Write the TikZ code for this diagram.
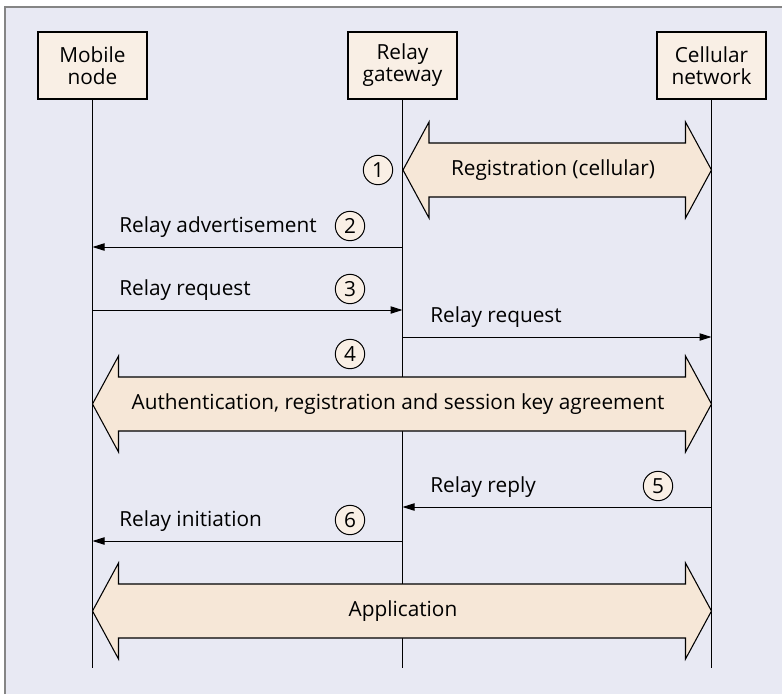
\documentclass[tikz,border=0pt]{standalone}
\usepackage{fontspec}
\setmainfont{Open Sans}
\usetikzlibrary{arrows.meta}
\definecolor{bgc}{HTML}{E8E9F3}
\definecolor{boxc}{HTML}{F9EFE5}
\definecolor{arrc}{HTML}{F6E7D7}
\definecolor{framec}{HTML}{858585}
\tikzset{
  every node/.style={font=\fontsize{15.6pt}{16.5pt}\selectfont},
  actor/.style={draw=black, line width=0.8pt, fill=boxc, minimum width=81.75pt, minimum height=50.25pt, align=center, inner sep=0pt},
  lifeline/.style={line width=0.75pt, black},
  msg/.style={line width=0.75pt, -{Triangle[length=9pt,width=5.5pt]}},
  stepnum/.style={circle, draw=black, line width=0.75pt, fill=boxc, minimum size=22pt, inner sep=0pt},
  bigarrow/.style={draw=black, line width=0.8pt, fill=arrc, line join=miter},
  lbl/.style={anchor=base west, inner sep=0pt}
}
\begin{document}
\begin{tikzpicture}[x=0.75pt, y=-0.75pt]
\useasboundingbox (0,0) rectangle (782,694);
% frame
\fill[bgc] (5,7) rectangle (782,694);
\draw[framec, line width=1.6pt] (5,694) -- (5,7) -- (782,7);
% actors
\node[actor] (mn) at (92.5,65.5) {Mobile\\node};
\node[actor] (rg) at (402.5,65.5) {Relay\\gateway};
\node[actor] (cn) at (711.5,65.5) {Cellular\\network};
% lifeline ends
\coordinate (mnE) at (92.5,668);
\coordinate (rgE) at (402.5,668);
\coordinate (cnE) at (711.5,668);
\draw[lifeline] (mn.south) -- (mnE);
\draw[lifeline] (rg.south) -- (rgE);
\draw[lifeline] (cn.south) -- (cnE);
% big arrow 1: registration
\draw[bigarrow] (403,170) -- (429,122) -- (429,143) -- (685.5,143) -- (685.5,122) -- (711.5,170) -- (685.5,218) -- (685.5,197) -- (429,197) -- (429,218) -- cycle;
\node (regtxt) at (553,170) {Registration (cellular)};
\node[stepnum] (s1) at (378,170) {1};
% message 2
\coordinate (m2a) at (402.5,247);
\coordinate (m2b) at (92.5,247);
\draw[msg] (m2a) -- (m2b);
\node[lbl] (t2) at (119,232) {Relay advertisement};
\node[stepnum] (s2) at (350,226) {2};
% message 3
\coordinate (m3a) at (92.5,310);
\coordinate (m3b) at (402.5,310);
\draw[msg] (m3a) -- (m3b);
\node[lbl] (t3) at (119,295) {Relay request};
\node[stepnum] (s3) at (350,289) {3};
% message 3b
\coordinate (m3c) at (402.5,337);
\coordinate (m3d) at (711.5,337);
\draw[msg] (m3c) -- (m3d);
\node[lbl] (t3b) at (430,322) {Relay request};
% big arrow 4
\node[stepnum] (s4) at (350,354) {4};
\draw[bigarrow] (92.5,404) -- (118.5,356) -- (118.5,377) -- (685.5,377) -- (685.5,356) -- (711.5,404) -- (685.5,452) -- (685.5,431) -- (118.5,431) -- (118.5,452) -- cycle;
\node (authtxt) at (398,404) {Authentication, registration and session key agreement};
% message 5
\coordinate (m5a) at (711.5,507);
\coordinate (m5b) at (402.5,507);
\draw[msg] (m5a) -- (m5b);
\node[lbl] (t5) at (430,492) {Relay reply};
\node[stepnum] (s5) at (658,486) {5};
% message 6
\coordinate (m6a) at (402.5,541);
\coordinate (m6b) at (92.5,541);
\draw[msg] (m6a) -- (m6b);
\node[lbl] (t6) at (119,526) {Relay initiation};
\node[stepnum] (s6) at (350,520) {6};
% application
\draw[bigarrow] (92.5,611) -- (118.5,563) -- (118.5,584) -- (685.5,584) -- (685.5,563) -- (711.5,611) -- (685.5,659) -- (685.5,638) -- (118.5,638) -- (118.5,659) -- cycle;
\node (apptxt) at (403,611) {Application};
\end{tikzpicture}
\end{document}
